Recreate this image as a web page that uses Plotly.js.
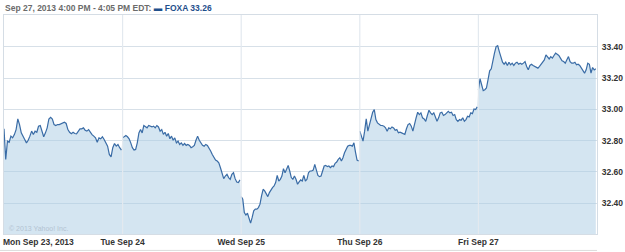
<!DOCTYPE html>
<html><head><meta charset="utf-8">
<script src="https://cdn.plot.ly/plotly-3.0.1.min.js"></script>
<style>html,body{margin:0;padding:0;background:#fff;}#chart{width:625px;height:252px;}</style>
</head><body><div id="chart"></div>
<script>
// Trading days and tick labels
const dayLabels = ["Mon Sep 23, 2013", "Tue Sep 24", "Wed Sep 25", "Thu Sep 26", "Fri Sep 27"];
const yTicks = [32.40, 32.60, 32.80, 33.00, 33.20, 33.40];
const symbol = "FOXA";
const lastPrice = "33.26";
const headerTime = "Sep 27, 2013 4:00 PM - 4:05 PM EDT:";

// Intraday prices (roughly every 5 minutes), one array per session
const mon = [32.876,32.68,32.797,32.79,32.829,32.818,32.839,32.871,32.939,32.903,32.85,32.833,32.808,32.786,32.803,32.829,32.861,32.839,32.861,32.854,32.892,32.897,32.861,32.825,32.85,32.882,32.939,32.95,32.939,32.903,32.897,32.903,32.903,32.908,32.914,32.918,32.91,32.871,32.854,32.844,32.854,32.846,32.844,32.861,32.876,32.876,32.882,32.867,32.861,32.871,32.854,32.839,32.829,32.818,32.79,32.818,32.812,32.825,32.808,32.782,32.765,32.712,32.697,32.755,32.782,32.765,32.776,32.755,32.739];
const tue = [32.818,32.829,32.833,32.825,32.812,32.786,32.755,32.74,32.744,32.786,32.85,32.871,32.85,32.897,32.888,32.882,32.897,32.893,32.888,32.893,32.882,32.897,32.888,32.861,32.871,32.84,32.854,32.829,32.846,32.812,32.829,32.803,32.818,32.786,32.797,32.776,32.786,32.77,32.782,32.77,32.776,32.77,32.755,32.761,32.77,32.803,32.829,32.803,32.786,32.77,32.765,32.776,32.77,32.755,32.734,32.712,32.691,32.676,32.67,32.659,32.627,32.591,32.557,32.574,32.585,32.564,32.553,32.585,32.595,32.557,32.536,32.532,32.549];
const wed = [32.442,32.425,32.34,32.324,32.336,32.298,32.273,32.309,32.351,32.362,32.362,32.372,32.394,32.447,32.489,32.479,32.457,32.442,32.468,32.489,32.5,32.51,32.532,32.578,32.542,32.553,32.574,32.621,32.595,32.617,32.642,32.606,32.564,32.553,32.574,32.553,32.521,32.536,32.549,32.542,32.578,32.542,32.553,32.595,32.606,32.606,32.612,32.648,32.606,32.578,32.57,32.574,32.606,32.638,32.642,32.634,32.638,32.627,32.638,32.634,32.655,32.663,32.68,32.691,32.67,32.691,32.723,32.744,32.765,32.77,32.77,32.765,32.786,32.727,32.676,32.67];
const thu = [32.861,32.833,32.797,32.861,32.939,32.861,32.903,32.956,32.982,32.999,32.935,32.914,32.903,32.897,32.897,32.893,32.882,32.861,32.882,32.876,32.888,32.882,32.867,32.871,32.85,32.854,32.85,32.846,32.84,32.876,32.903,32.91,32.893,32.861,32.914,32.946,32.982,32.967,32.978,32.946,32.939,32.924,32.961,32.995,32.978,32.967,32.978,32.956,32.924,32.946,32.978,32.982,32.961,32.967,32.978,32.988,32.978,32.982,32.961,32.967,32.935,32.924,32.935,32.931,32.946,32.924,32.935,32.956,32.952,32.978,32.973,33.003,32.999,33.016];
const fri = [33.126,33.196,33.158,33.12,33.126,33.137,33.19,33.247,33.26,33.323,33.36,33.402,33.408,33.37,33.328,33.302,33.289,33.302,33.281,33.302,33.285,33.296,33.281,33.296,33.302,33.289,33.296,33.289,33.296,33.306,33.275,33.253,33.281,33.289,33.281,33.275,33.268,33.264,33.275,33.289,33.306,33.317,33.349,33.338,33.323,33.338,33.328,33.345,33.36,33.353,33.345,33.328,33.311,33.306,33.296,33.317,33.338,33.306,33.296,33.296,33.302,33.285,33.289,33.281,33.264,33.247,33.232,33.253,33.296,33.289,33.232,33.268,33.253,33.26];

const sessions = [mon, tue, wed, thu, fri];

// Build x positions: day index + fraction of the session
const lineX = [], lineY = [], fillX = [], fillY = [];
sessions.forEach((vals, d) => {
  vals.forEach((v, i) => {
    const x = d + (i / (vals.length - 1)) * 0.99;
    lineX.push(x); lineY.push(v);
    fillX.push(x); fillY.push(v);
  });
  if (d < sessions.length - 1) { lineX.push(null); lineY.push(null); }
});

const lineColor = "#3a6ca6";
const fillColor = "rgba(170,203,228,0.5)";
const gridColor = "#d7e0e8";

const traces = [
  {x: fillX, y: fillY, type: "scatter", mode: "lines", line: {width: 0, color: fillColor},
   fill: "tozeroy", fillcolor: fillColor, hoverinfo: "skip", showlegend: false},
  {x: lineX, y: lineY, type: "scatter", mode: "lines", line: {width: 1.2, color: lineColor},
   connectgaps: false, showlegend: false, name: symbol}
];

const fontFam = "Liberation Sans, Arial, sans-serif";
const tickFont = {family: fontFam, size: 8.5, color: "#333", weight: "bold"};

const monLabelPos = 0.29;
const xTickVals = dayLabels.map((_, d) => d === 0 ? monLabelPos : d);

const shapes = dayLabels.slice(1).map((_, k) => ({
  type: "line", xref: "x", yref: "paper", x0: k + 1, x1: k + 1, y0: 0, y1: 1,
  line: {color: "#e3e9ef", width: 1.2}, layer: "above"
}));
shapes.push({type: "line", xref: "paper", yref: "paper", x0: -0.007, x1: 1, y0: -0.075, y1: -0.075,
  line: {color: "#dcdcdc", width: 1}});

const layout = {
  width: 625, height: 252,
  margin: {l: 4, r: 28, t: 15, b: 18, pad: 0},
  paper_bgcolor: "#fff", plot_bgcolor: "#fff",
  showlegend: false,
  xaxis: {
    range: [0, 5], showgrid: false, zeroline: false,
    tickvals: xTickVals, ticktext: dayLabels, ticks: "",
    tickfont: tickFont, showline: true, mirror: true, linecolor: "#d5dde5", linewidth: 1,
    fixedrange: true
  },
  yaxis: {
    range: [32.203, 33.604], side: "right", tickvals: yTicks,
    ticktext: yTicks.map(v => v.toFixed(2)), ticks: "",
    showgrid: true, gridcolor: gridColor, gridwidth: 1, zeroline: false,
    tickfont: tickFont, showline: true, mirror: true, linecolor: "#d5dde5", linewidth: 1,
    ticklabelstandoff: 2, fixedrange: true
  },
  shapes: shapes,
  annotations: [
    {xref: "paper", yref: "paper", x: 0, y: 1, xanchor: "left", yanchor: "bottom", yshift: 0, xshift: -1, showarrow: false,
     text: '<b><span style="color:#6b6b6b">' + headerTime + '</span> <span style="color:#1f4f8c">▬ ' + symbol + ' ' + lastPrice + '</span></b>',
     font: {family: fontFam, size: 8.5, color: "#6b6b6b"}},
    {xref: "paper", yref: "paper", x: 0, y: 0, xanchor: "left", yanchor: "bottom", xshift: 3, yshift: 0, showarrow: false,
     text: "© 2013 Yahoo! Inc.", font: {family: fontFam, size: 7, color: "#b3c3d1"}}
  ]
};

Plotly.newPlot("chart", traces, layout, {displayModeBar: false, staticPlot: true});
</script></body></html>
